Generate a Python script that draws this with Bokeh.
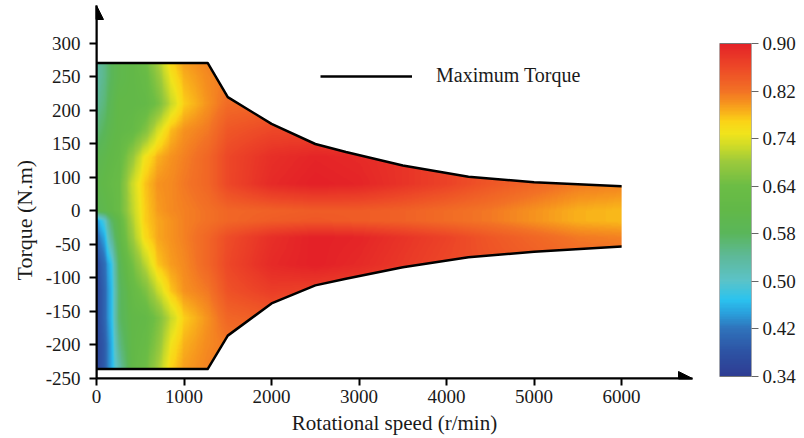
import numpy as np
from bokeh.plotting import figure
from bokeh.models import (LinearColorMapper, FixedTicker, Legend, LegendItem,
                          Arrow, NormalHead, Range1d, Title)
from bokeh.layouts import row
from bokeh.embed import file_html
from bokeh.resources import INLINE

# ---------------- data ----------------
# Maximum torque envelope
env_speed = [0, 1270, 1500, 2000, 2500, 2850, 3500, 4250, 5000, 6000]
top_torque = [221, 221, 170, 130, 100, 88, 68, 51, 43, 37]
bottom_torque = [-236, -236, -186, -138, -111, -101, -84, -69, -61, -53]

# efficiency samples (rows: torque, top to bottom; columns: speed)
grid_speed = [0, 80, 160, 250, 400, 550, 700, 850, 1000, 1270,
              1500, 2000, 2500, 3000, 3500, 4000, 4500, 5000, 5500, 6000]
grid_torque = [225, 200, 160, 120, 80, 40, 0, -15, -40, -80, -120, -160, -200, -240]
eff_225 = [0.53, 0.55, 0.58, 0.60, 0.61, 0.64, 0.70, 0.77, 0.795, 0.81, 0.82, 0.82, 0.82, 0.82, 0.82, 0.82, 0.82, 0.82, 0.82, 0.82]
eff_200 = [0.53, 0.55, 0.58, 0.60, 0.61, 0.625, 0.68, 0.75, 0.785, 0.805, 0.815, 0.82, 0.82, 0.82, 0.82, 0.82, 0.82, 0.82, 0.82, 0.82]
eff_160 = [0.54, 0.56, 0.59, 0.61, 0.61, 0.615, 0.65, 0.72, 0.77, 0.80, 0.825, 0.83, 0.83, 0.83, 0.83, 0.83, 0.83, 0.83, 0.83, 0.83]
eff_120 = [0.56, 0.58, 0.60, 0.61, 0.62, 0.66, 0.73, 0.78, 0.80, 0.815, 0.845, 0.86, 0.86, 0.86, 0.86, 0.86, 0.86, 0.86, 0.86, 0.86]
eff_80 = [0.59, 0.60, 0.61, 0.62, 0.68, 0.75, 0.785, 0.80, 0.81, 0.83, 0.86, 0.885, 0.895, 0.89, 0.88, 0.865, 0.85, 0.84, 0.83, 0.83]
eff_40 = [0.60, 0.61, 0.62, 0.63, 0.72, 0.775, 0.80, 0.805, 0.815, 0.83, 0.86, 0.89, 0.9, 0.895, 0.88, 0.865, 0.845, 0.83, 0.815, 0.81]
eff_0 = [0.59, 0.60, 0.61, 0.63, 0.71, 0.77, 0.795, 0.805, 0.81, 0.82, 0.83, 0.835, 0.84, 0.84, 0.835, 0.825, 0.815, 0.80, 0.785, 0.78]
eff_m15 = [0.44, 0.49, 0.57, 0.61, 0.70, 0.77, 0.79, 0.80, 0.81, 0.82, 0.83, 0.84, 0.845, 0.84, 0.835, 0.825, 0.815, 0.80, 0.785, 0.78]
eff_m40 = [0.41, 0.45, 0.54, 0.60, 0.685, 0.76, 0.79, 0.80, 0.81, 0.83, 0.855, 0.885, 0.9, 0.895, 0.88, 0.865, 0.845, 0.83, 0.815, 0.81]
eff_m80 = [0.37, 0.41, 0.47, 0.58, 0.645, 0.71, 0.775, 0.795, 0.805, 0.83, 0.86, 0.89, 0.9, 0.89, 0.875, 0.86, 0.85, 0.84, 0.83, 0.83]
eff_m120 = [0.36, 0.40, 0.46, 0.57, 0.62, 0.655, 0.72, 0.775, 0.80, 0.815, 0.85, 0.87, 0.865, 0.86, 0.85, 0.85, 0.85, 0.85, 0.85, 0.85]
eff_m160 = [0.36, 0.40, 0.46, 0.57, 0.61, 0.615, 0.655, 0.72, 0.77, 0.80, 0.83, 0.84, 0.83, 0.83, 0.83, 0.83, 0.83, 0.83, 0.83, 0.83]
eff_m200 = [0.36, 0.39, 0.45, 0.55, 0.61, 0.625, 0.675, 0.75, 0.785, 0.805, 0.815, 0.82, 0.82, 0.82, 0.82, 0.82, 0.82, 0.82, 0.82, 0.82]
eff_m240 = [0.36, 0.39, 0.45, 0.52, 0.61, 0.64, 0.70, 0.77, 0.795, 0.81, 0.82, 0.82, 0.82, 0.82, 0.82, 0.82, 0.82, 0.82, 0.82, 0.82]
eff_rows = [eff_225, eff_200, eff_160, eff_120, eff_80, eff_40, eff_0, eff_m15,
            eff_m40, eff_m80, eff_m120, eff_m160, eff_m200, eff_m240]

# axis ticks and labels
x_ticks = [0, 1000, 2000, 3000, 4000, 5000, 6000]
y_ticks = [250, 200, 150, 100, 50, 0, -50, -100, -150, -200, -250]
y_tick_labels = ["300", "250", "200", "150", "100", "0", "-50", "-100", "-150", "-200", "-250"]
cbar_levels = [0.34, 0.42, 0.50, 0.58, 0.64, 0.74, 0.82, 0.90]
cbar_labels = ["0.34", "0.42", "0.50", "0.58", "0.64", "0.74", "0.82", "0.90"]

# ---------------- style ----------------
FONT = "Liberation Serif"
TXT = "#1a1a1a"
cbar_pos = list(range(len(cbar_levels)))          # evenly spaced on the bar
cmap_pos = [0.0, 0.5, 1.0, 1.3, 1.6, 2.0, 2.5, 3.0, 3.5, 4.0, 4.5, 4.8, 5.1,
            5.35, 5.55, 5.75, 6.0, 6.5, 7.0]
cmap_hex = ["#2E3D93", "#2D53A4", "#2F74BC", "#2A9FDC", "#2BC3EF", "#5BC3C8",
            "#5EB99A", "#5AB65A", "#62B848", "#6CBD45", "#9CCA3C", "#C8DA2A",
            "#F1E41C", "#FBD417", "#F9B31A", "#F6931E", "#F27125", "#ED4827",
            "#E42127"]


def build_palette(n=256):
    rgb = np.array([[int(h[i:i + 2], 16) for i in (1, 3, 5)] for h in cmap_hex], float)
    t = np.linspace(0, 7, n)
    out = []
    for v in t:
        c = [int(round(np.interp(v, cmap_pos, rgb[:, k]))) for k in range(3)]
        out.append("#%02x%02x%02x" % tuple(c))
    return out


palette = build_palette()
mapper = LinearColorMapper(palette=palette, low=0, high=7)

# resample the read grid to a smooth raster
E = np.array(eff_rows, float)[::-1]
T = np.array(grid_torque, float)[::-1]
fx = np.linspace(0, 6000, 601)
fy = np.linspace(T[0], T[-1], 466)
tmp = np.array([np.interp(fx, grid_speed, r) for r in E])
fine = np.array([np.interp(fy, T, tmp[:, j]) for j in range(len(fx))]).T
img = np.interp(fine, cbar_levels, cbar_pos)

# ---------------- main figure ----------------
X_END = 6810
Y_END = 306.7
B_TOP, B_BOT = 5, 60
p = figure(width=700, height=438, x_range=Range1d(0, X_END), y_range=Range1d(-250, Y_END),
           output_backend="svg", toolbar_location=None,
           min_border_left=96, min_border_right=8, min_border_top=B_TOP, min_border_bottom=B_BOT)
p.outline_line_color = None
p.grid.visible = False
p.background_fill_color = "white"

p.image(image=[img], x=0, y=float(T[0]), dw=6000, dh=float(T[-1] - T[0]), color_mapper=mapper)
# white masks outside the torque envelope
p.patch(env_speed + [6030, 6030, 0], top_torque + [top_torque[-1], T[-1] + 10, T[-1] + 10],
        fill_color="white", line_color=None)
p.patch(env_speed + [6030, 6030, 0], bottom_torque + [bottom_torque[-1], T[0] - 8, T[0] - 8],
        fill_color="white", line_color=None)
top_line = p.line(env_speed, top_torque, line_color="black", line_width=2.5, line_join="round")
p.line(env_speed, bottom_torque, line_color="black", line_width=2.5, line_join="round")

for ax in (p.xaxis[0], p.yaxis[0]):
    ax.axis_line_width = 2
    ax.axis_line_color = "black"
    ax.major_tick_line_width = 2
    ax.major_tick_line_color = "black"
    ax.major_tick_out = 7
    ax.major_tick_in = 0
    ax.minor_tick_line_color = None
    ax.major_label_text_font = FONT
    ax.major_label_text_font_size = "19px"
    ax.major_label_text_color = TXT
    ax.axis_label_text_font = FONT
    ax.axis_label_text_font_style = "normal"
    ax.axis_label_text_color = TXT

p.xaxis.ticker = FixedTicker(ticks=x_ticks)
p.xaxis.axis_label = "Rotational speed (r/min)"
p.xaxis.axis_label_text_font_size = "21px"
p.xaxis.major_label_standoff = 4
p.xaxis.axis_label_standoff = 5
p.yaxis.ticker = FixedTicker(ticks=y_ticks)
p.yaxis.major_label_overrides = {t: l for t, l in zip(y_ticks, y_tick_labels)}
p.yaxis.major_label_standoff = 9

# y-axis title, starting a little below the frame centre as in the original
p.add_layout(Title(text="Torque (N.m)", align="left", offset=98, standoff=12,
                   text_font=FONT, text_font_size="22px", text_font_style="normal",
                   text_color=TXT), "left")

p.add_layout(Arrow(end=NormalHead(size=14, fill_color="black", line_color="black"),
                   x_start=0, y_start=-250, x_end=X_END, y_end=-250, line_width=2))
p.add_layout(Arrow(end=NormalHead(size=14, fill_color="black", line_color="black"),
                   x_start=0, y_start=-250, x_end=0, y_end=Y_END, line_width=2))

legend = Legend(items=[LegendItem(label="Maximum Torque", renderers=[top_line])],
                location=(224, 291), glyph_width=92, glyph_height=22, label_standoff=24,
                padding=0, margin=0, spacing=0, border_line_alpha=0, background_fill_alpha=0,
                label_text_font=FONT, label_text_font_size="20px", label_text_color=TXT)
p.add_layout(legend)

# ---------------- colour bar ----------------
# frame shares the main frame's top/bottom; the bar spans 0..7 inside it
CB_LO = -2 / 47.57
CB_HI = 7 + 38 / 47.57
cb = figure(width=104, height=438, x_range=Range1d(0, 1), y_range=Range1d(CB_LO, CB_HI),
            output_backend="svg", toolbar_location=None, x_axis_location=None,
            y_axis_location="right", min_border_left=19, min_border_right=53,
            min_border_top=B_TOP, min_border_bottom=B_BOT)
cb.grid.visible = False
cb.outline_line_color = None
cb.image(image=[np.linspace(0, 7, 400).reshape(-1, 1)], x=0, y=0, dw=1, dh=7, color_mapper=mapper)
cb.quad(left=[0], right=[1], bottom=[0], top=[7], fill_color=None, line_color="#777777", line_width=1)
ya = cb.yaxis[0]
ya.ticker = FixedTicker(ticks=cbar_pos)
ya.major_label_overrides = {t: l for t, l in zip(cbar_pos, cbar_labels)}
ya.axis_line_color = None
ya.major_tick_out = 7
ya.major_tick_in = 0
ya.major_tick_line_color = "#666666"
ya.minor_tick_line_color = None
ya.major_label_standoff = 4
ya.major_label_text_font = FONT
ya.major_label_text_font_size = "19px"
ya.major_label_text_color = TXT

layout = row(p, cb)
open("out.html", "w").write(file_html(layout, INLINE))
